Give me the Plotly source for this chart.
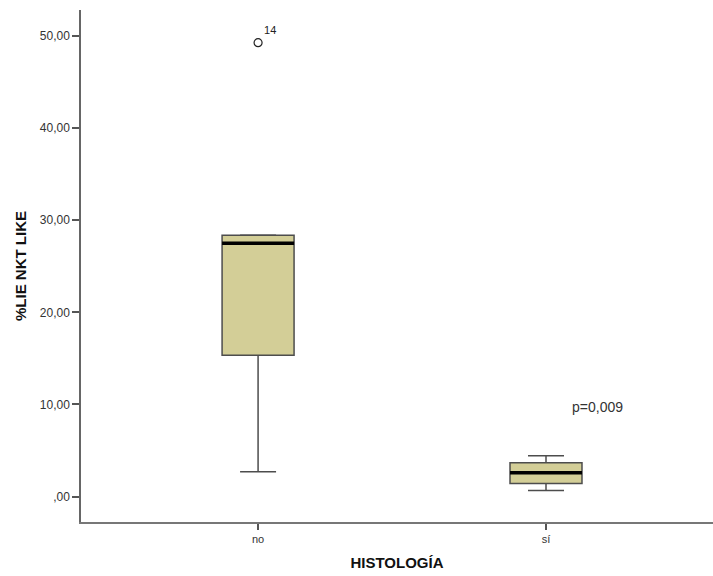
import plotly.graph_objects as go

# Group labels and box statistics (%LIE NKT LIKE by histology)
groups = ["no", "sí"]
positions = [0, 1]
q1 = [15.35, 1.43]
median = [27.5, 2.6]
q3 = [28.35, 3.68]
lower_fence = [2.7, 0.68]
upper_fence = [28.4, 4.45]

# Outlier case
outlier_x = [0]
outlier_y = [49.25]
outlier_label = ["14"]

y_ticks = [0, 10, 20, 30, 40, 50]
y_ticktext = [",00", "10,00", "20,00", "30,00", "40,00", "50,00"]

p_text = "p=0,009"

BOX_FILL = "#d3ce97"
EDGE = "#4d4d4d"
BOX_WIDTH = 0.25

fig = go.Figure()

fig.add_trace(go.Box(
    x=positions,
    q1=q1,
    median=median,
    q3=q3,
    lowerfence=lower_fence,
    upperfence=upper_fence,
    fillcolor=BOX_FILL,
    line=dict(color=EDGE, width=1.5),
    width=BOX_WIDTH,
    whiskerwidth=0.5,
    boxpoints=False,
    showlegend=False,
    hoverinfo="skip",
))

# Thick black median bars on top of each box
for xi, m in zip(positions, median):
    fig.add_shape(
        type="line", xref="x", yref="y",
        x0=xi - BOX_WIDTH / 2, x1=xi + BOX_WIDTH / 2, y0=m, y1=m,
        line=dict(color="black", width=3.5),
    )

fig.add_trace(go.Scatter(
    x=outlier_x,
    y=outlier_y,
    mode="markers+text",
    marker=dict(symbol="circle-open", size=8, color="#222", line=dict(width=1.2)),
    text=outlier_label,
    textposition="top right",
    textfont=dict(family="Liberation Sans, Arial", size=11, color="#222"),
    showlegend=False,
    hoverinfo="skip",
))

fig.add_annotation(
    x=1.18, y=9.7, xref="x", yref="y",
    text=p_text, showarrow=False,
    font=dict(family="Liberation Sans, Arial", size=14, color="#333"),
)

fig.update_layout(
    width=713, height=576,
    margin=dict(l=81, r=0, t=10, b=54),
    paper_bgcolor="white",
    plot_bgcolor="white",
    font=dict(family="Liberation Sans, Arial", size=12, color="#333"),
)

fig.update_xaxes(
    range=[-0.615, 1.58],
    tickmode="array", tickvals=positions, ticktext=groups,
    showline=True, linecolor="#777", linewidth=1.5,
    ticks="outside", ticklen=6, tickcolor="#555", tickwidth=1.5,
    showgrid=False, zeroline=False,
    tickfont=dict(size=11, color="#333"),
    title=dict(text="<b>HISTOLOGÍA</b>", font=dict(size=15, color="#111"), standoff=14),
)

fig.update_yaxes(
    range=[-2.75, 52.8],
    tickmode="array", tickvals=y_ticks, ticktext=y_ticktext,
    showline=True, linecolor="#666", linewidth=1.5,
    ticks="outside", ticklen=7, tickcolor="#555", tickwidth=1.5,
    showgrid=False, zeroline=False,
    tickfont=dict(size=12, color="#333"),
    title=dict(text="<b>%LIE NKT LIKE</b>", font=dict(size=15, color="#111"), standoff=10),
)

fig.write_html("out.html")
